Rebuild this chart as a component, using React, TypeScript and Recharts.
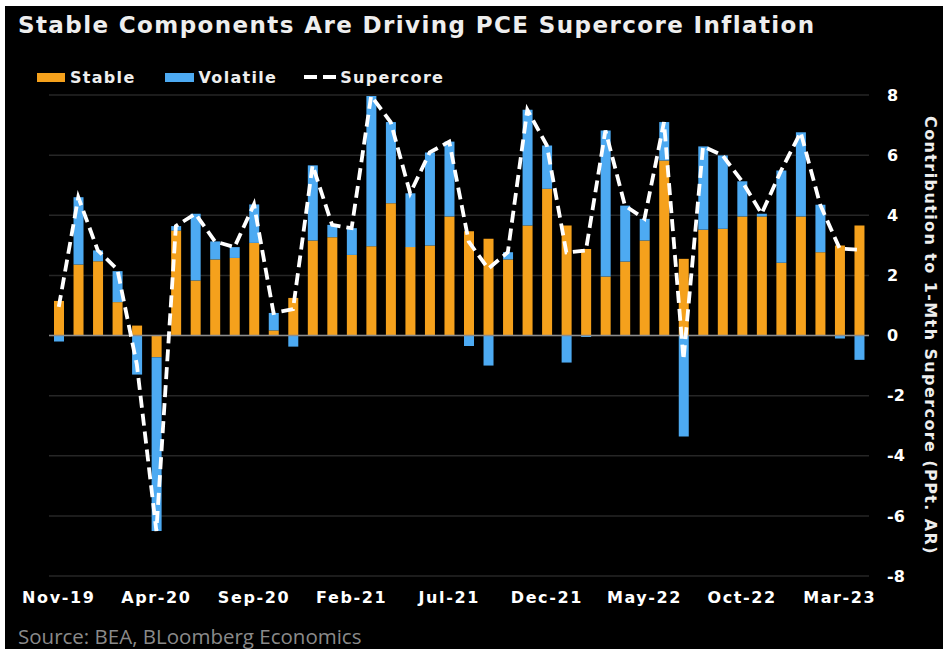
import { ComposedChart, Bar, Line, XAxis, YAxis, CartesianGrid, ReferenceLine } from 'recharts'

const months = [
  'Nov-19', 'Dec-19', 'Jan-20', 'Feb-20', 'Mar-20', 'Apr-20', 'May-20', 'Jun-20', 'Jul-20', 'Aug-20',
  'Sep-20', 'Oct-20', 'Nov-20', 'Dec-20', 'Jan-21', 'Feb-21', 'Mar-21', 'Apr-21', 'May-21', 'Jun-21',
  'Jul-21', 'Aug-21', 'Sep-21', 'Oct-21', 'Nov-21', 'Dec-21', 'Jan-22', 'Feb-22', 'Mar-22', 'Apr-22',
  'May-22', 'Jun-22', 'Jul-22', 'Aug-22', 'Sep-22', 'Oct-22', 'Nov-22', 'Dec-22', 'Jan-23', 'Feb-23',
  'Mar-23', 'Apr-23'
]

const stable = [
  1.15, 2.36, 2.47, 1.11, 0.33, -0.72, 3.49, 1.83, 2.53, 2.58,
  3.08, 0.17, 1.25, 3.16, 3.27, 2.68, 2.97, 4.4, 2.94, 2.99,
  3.96, 3.47, 3.22, 2.53, 3.66, 4.88, 3.66, 2.88, 1.96, 2.46,
  3.16, 5.82, 2.55, 3.52, 3.55, 3.96, 3.96, 2.42, 3.96, 2.77,
  2.99, 3.66
]

const volatile = [
  -0.2, 2.24, 0.36, 1.03, -1.3, -5.78, 0.15, 2.22, 0.6, 0.36,
  1.28, 0.58, -0.37, 2.5, 0.41, 0.89, 5.0, 2.7, 1.79, 3.1,
  2.49, -0.35, -1.0, 0.24, 3.85, 1.44, -0.9, -0.05, 4.86, 1.86,
  0.72, 1.28, -3.36, 2.77, 2.44, 1.17, 0.09, 3.07, 2.8, 1.58,
  -0.1, -0.81
]

const supercore = [
  0.95, 4.6, 2.83, 2.2, -0.97, -6.5, 3.64, 4.05, 3.13, 2.94,
  4.36, 0.75, 0.88, 5.66, 3.68, 3.57, 7.97, 7.1, 4.73, 6.09,
  6.45, 3.12, 2.22, 2.77, 7.51, 6.32, 2.76, 2.83, 6.82, 4.32,
  3.88, 7.1, -0.81, 6.29, 5.99, 5.13, 4.05, 5.49, 6.76, 4.35,
  2.89, 2.85
]

const yTicks = [-8, -6, -4, -2, 0, 2, 4, 6, 8]

const data = months.map((m, i) => ({
  month: m,
  stable: stable[i],
  volatile: volatile[i],
  supercore: supercore[i]
}))

const ORANGE = '#F5A11C'
const BLUE = '#4DAAF2'
const FONT = '"DejaVu Sans", Verdana, sans-serif'

const swatch = (w: number, h: number, color: string, mr: number) => (
  <span style={{ width: w, height: h, background: color, display: 'block', flexShrink: 0, marginRight: mr }} />
)

export default function App() {
  return (
    <div style={{ position: 'absolute', left: 0, top: 0, width: 943, height: 649, background: '#fff', overflow: 'hidden' }}>
      <div style={{ position: 'absolute', left: 5, top: 6, width: 938, height: 643, background: '#000' }} />
      <div style={{ position: 'absolute', left: 0, top: 0 }}>
        <ComposedChart
          width={943}
          height={649}
          data={data}
          stackOffset="sign"
          barSize={10}
          margin={{ top: 95, left: 49, right: 14, bottom: 43 }}
        >
          <CartesianGrid horizontal vertical={false} stroke="#262626" strokeWidth={1.5} />
          <XAxis
            dataKey="month"
            interval={4}
            axisLine={false}
            tickLine={false}
            height={30}
            tickMargin={10}
            tick={{ fill: '#fff', fontSize: 16, fontWeight: 700, fontFamily: FONT, letterSpacing: 1.6 }}
          />
          <YAxis
            orientation="right"
            domain={[-8, 8]}
            ticks={yTicks}
            width={60}
            axisLine={false}
            tickLine={false}
            tickMargin={12}
            tick={{ fill: '#fff', fontSize: 16, fontWeight: 700, fontFamily: FONT, textAnchor: 'start' }}
          />
          <ReferenceLine y={0} stroke="#8c8c8c" strokeWidth={1.5} />
          <Bar dataKey="stable" stackId="a" fill={ORANGE} isAnimationActive={false} />
          <Bar dataKey="volatile" stackId="a" fill={BLUE} isAnimationActive={false} />
          <Line
            dataKey="supercore"
            type="linear"
            stroke="#fff"
            strokeWidth={3.8}
            strokeDasharray="12 6"
            dot={false}
            isAnimationActive={false}
          />
        </ComposedChart>
      </div>

      <div style={{ position: 'absolute', left: 18, top: 12, color: '#eee', fontFamily: FONT, fontWeight: 700, fontSize: 23, letterSpacing: 1.4, whiteSpace: 'nowrap' }}>
        Stable Components Are Driving PCE Supercore Inflation
      </div>

      <div style={{ position: 'absolute', left: 37, top: 67, height: 20, display: 'flex', alignItems: 'center', color: '#eee', fontFamily: FONT, fontWeight: 700, fontSize: 16, letterSpacing: 1.3, whiteSpace: 'nowrap' }}>
        {swatch(28, 9, ORANGE, 5)}
        <span style={{ marginRight: 29 }}>Stable</span>
        {swatch(29, 9, BLUE, 5)}
        <span style={{ marginRight: 27 }}>Volatile</span>
        {swatch(13, 3.5, '#fff', 6)}
        {swatch(13, 3.5, '#fff', 4)}
        <span>Supercore</span>
      </div>

      <div style={{ position: 'absolute', left: 921, top: 114, height: 442, writingMode: 'vertical-rl', color: '#eee', fontFamily: FONT, fontWeight: 700, fontSize: 16, letterSpacing: 1.4, whiteSpace: 'nowrap', textAlign: 'center' }}>
        Contribution to 1-Mth Supercore (PPt. AR)
      </div>

      <div style={{ position: 'absolute', left: 18, top: 623, color: '#8a8a8a', fontFamily: '"Open Sans", sans-serif', fontSize: 20.5, lineHeight: '26px', whiteSpace: 'nowrap' }}>
        Source: BEA, BLoomberg Economics
      </div>
    </div>
  )
}
